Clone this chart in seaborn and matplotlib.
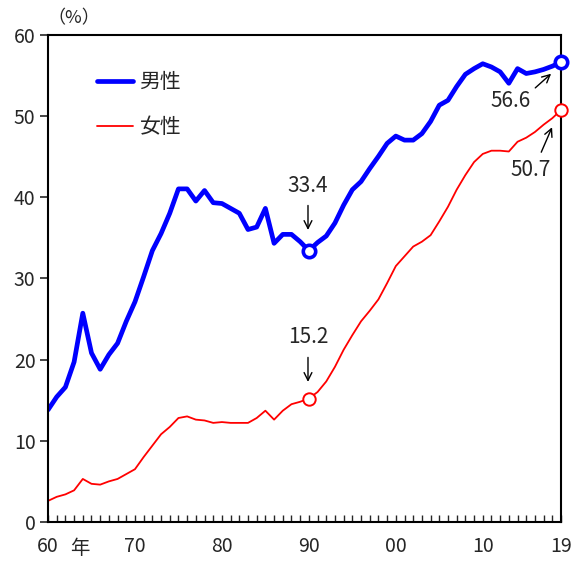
import numpy as np
import pandas as pd
import matplotlib
matplotlib.use("Agg")
import matplotlib.pyplot as plt
import seaborn as sns

years = list(range(1960, 2020))
male = [13.8, 15.4, 16.6, 19.7, 25.7, 20.8, 18.8, 20.6, 22.0, 24.7,
        27.1, 30.2, 33.4, 35.5, 38.0, 41.0, 41.0, 39.5, 40.8, 39.3,
        39.2, 38.6, 38.0, 36.0, 36.3, 38.6, 34.3, 35.4, 35.4, 34.5,
        33.4, 34.4, 35.2, 36.8, 39.0, 40.9, 41.9, 43.5, 45.0, 46.6,
        47.5, 47.0, 47.0, 47.8, 49.3, 51.3, 51.9, 53.6, 55.1, 55.8,
        56.4, 56.0, 55.4, 54.0, 55.8, 55.2, 55.4, 55.7, 56.1, 56.6]
female = [2.6, 3.1, 3.4, 3.9, 5.3, 4.7, 4.6, 5.0, 5.3, 5.9,
          6.5, 8.0, 9.4, 10.8, 11.7, 12.8, 13.0, 12.6, 12.5, 12.2,
          12.3, 12.2, 12.2, 12.2, 12.8, 13.7, 12.6, 13.7, 14.5, 14.8,
          15.2, 16.0, 17.3, 19.1, 21.2, 23.0, 24.7, 26.0, 27.4, 29.4,
          31.5, 32.7, 33.9, 34.5, 35.3, 37.0, 38.8, 40.9, 42.7, 44.3,
          45.3, 45.7, 45.7, 45.6, 46.8, 47.3, 48.0, 48.9, 49.7, 50.7]
series_names = ["男性", "女性"]
xtick_years = [1960, 1970, 1980, 1990, 2000, 2010, 2019]
xtick_labels = ["60", "70", "80", "90", "00", "10", "19"]
highlight_years = [1990, 2019]

sns.set_style("white")
plt.rcParams['font.family'] = ['Noto Sans CJK JP', 'DejaVu Sans']

df = pd.DataFrame({"year": years * 2,
                   "value": male + female,
                   "sex": [series_names[0]] * len(years) + [series_names[1]] * len(years)})

fig = plt.figure(figsize=(5.71, 5.61), dpi=100)
ax = fig.add_axes([0.0841, 0.0695, 0.8984, 0.869])

sns.lineplot(data=df[df.sex == series_names[0]], x="year", y="value",
             color="#0000ff", linewidth=3.4, label=series_names[0], ax=ax)
sns.lineplot(data=df[df.sex == series_names[1]], x="year", y="value",
             color="#ff0000", linewidth=1.3, label=series_names[1], ax=ax)

hm = df[(df.sex == series_names[0]) & (df.year.isin(highlight_years))]
hf = df[(df.sex == series_names[1]) & (df.year.isin(highlight_years))]
ax.scatter(hm.year, hm.value, s=80, facecolor="white", edgecolor="#0000ff",
           linewidth=2.6, zorder=5, clip_on=False)
ax.scatter(hf.year, hf.value, s=80, facecolor="white", edgecolor="#ff0000",
           linewidth=1.4, zorder=5, clip_on=False)

ax.set_xlim(1960, 2019)
ax.set_ylim(0, 60)
ax.set_yticks(range(0, 61, 10))
ax.set_xticks(xtick_years)
ax.set_xticklabels(xtick_labels)
ax.set_xticks(years, minor=True)
ax.set_xlabel("")
ax.set_ylabel("")
ax.tick_params(axis="y", direction="out", length=6, width=1.2, left=True,
               labelsize=14, pad=3)
ax.tick_params(axis="x", which="both", direction="in", length=5, width=1.0,
               bottom=True, labelsize=14, pad=10)
for s in ax.spines.values():
    s.set_color("black")
    s.set_linewidth(1.5)

# annotations
arrow = dict(arrowstyle="->", color="black", lw=1.0, mutation_scale=14)
afont = dict(fontsize=15, ha="center", va="center")
ax.annotate("", xy=(1989.9, 35.6), xytext=(1989.9, 39.3), arrowprops=arrow)
ax.text(1989.9, 41.4, f"{male[years.index(1990)]:.1f}", **afont)
ax.annotate("", xy=(1989.9, 16.9), xytext=(1989.9, 20.6), arrowprops=arrow)
ax.text(1989.9, 22.8, f"{female[years.index(1990)]:.1f}", **afont)
ax.annotate("", xy=(2018.1, 55.4), xytext=(2015.8, 53.2), arrowprops=arrow)
ax.text(2013.2, 51.8, f"{male[-1]:.1f}", **afont)
ax.annotate("", xy=(2018.1, 48.9), xytext=(2016.6, 45.2), arrowprops=arrow)
ax.text(2015.5, 43.3, f"{female[-1]:.1f}", **afont)

fig.text(74 / 571, 1 - 18 / 561, "（%）", ha="center", va="center", fontsize=13)
fig.text(80 / 571, 1 - 549 / 561, "年", ha="center", va="center", fontsize=14)

leg = ax.legend(loc="upper left", bbox_to_anchor=(0.095, 0.925), frameon=False,
                fontsize=15, handlelength=1.75, labelspacing=1.1,
                handletextpad=0.3, borderpad=0, borderaxespad=0)

fig.savefig("out.png", dpi=100)
